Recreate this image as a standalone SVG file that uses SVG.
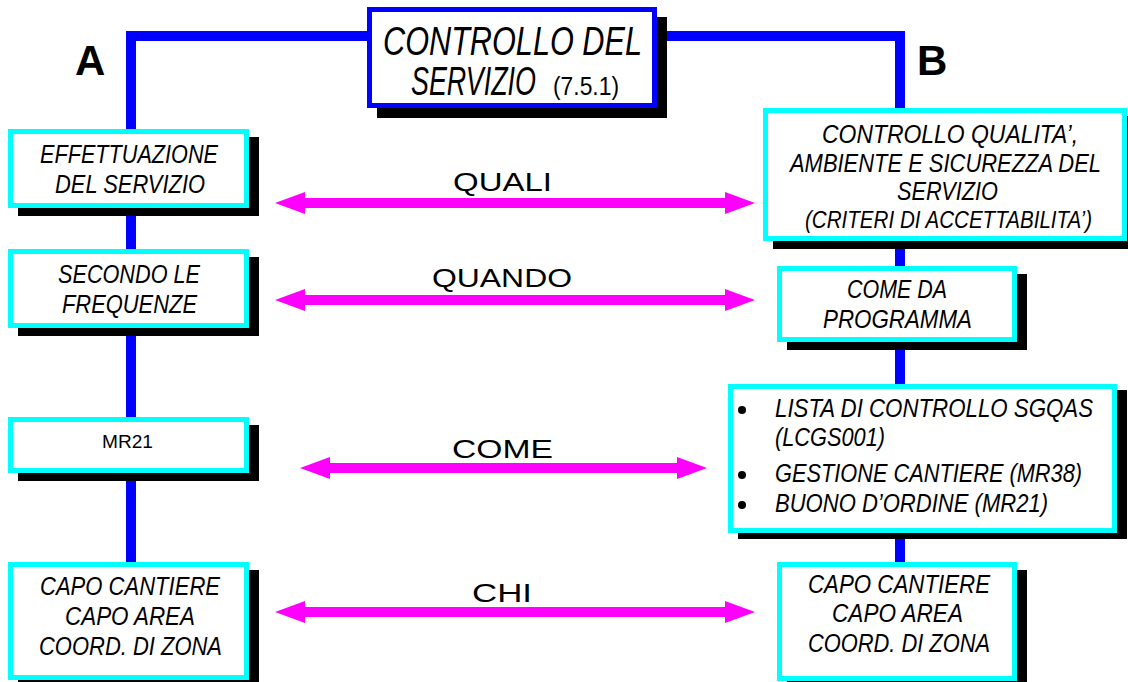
<svg xmlns="http://www.w3.org/2000/svg" width="1128" height="682" viewBox="0 0 1128 682">
<style>
.bg{fill:#ffffff}
.sh{fill:#000000}
.box{fill:#ffffff;stroke:#00ffff;stroke-width:5}
.tbox{fill:#ffffff;stroke:#0000ff;stroke-width:5}
.t{font-family:"Liberation Sans",Arial,sans-serif;font-style:italic;font-size:25px;fill:#000}
.ts{font-family:"Liberation Sans",Arial,sans-serif;font-style:italic;font-size:23px;fill:#000}
.tr{font-family:"Liberation Sans",Arial,sans-serif;font-size:19px;fill:#000}
.title{font-family:"Liberation Sans",Arial,sans-serif;font-style:italic;font-size:40px;fill:#000}
.num{font-family:"Liberation Sans",Arial,sans-serif;font-size:25px;fill:#000}
.lbl{font-family:"Liberation Sans",Arial,sans-serif;font-size:26px;fill:#000}
.big{font-family:"Liberation Sans",Arial,sans-serif;font-weight:bold;font-size:42px;fill:#000}
.blue{fill:none;stroke:#0000ff;stroke-width:10;stroke-linejoin:miter}
.arr{stroke:#ff00ff;stroke-width:10;marker-start:url(#ah);marker-end:url(#ah)}
</style>
<defs>
<marker id="ah" viewBox="0 -11 30 22" refX="5" refY="0" markerWidth="30" markerHeight="22" markerUnits="userSpaceOnUse" orient="auto-start-reverse">
<path d="M0,-11 L30,0 L0,11 z" fill="#ff00ff"/>
</marker>
</defs>
<rect class="bg" x="0" y="0" width="1128" height="682"/>

<g id="connectors">
<path class="blue" d="M131,562 V36 H900 V562"/>
<line class="arr" x1="300" y1="203" x2="730" y2="203"/>
<line class="arr" x1="300" y1="300" x2="730" y2="300"/>
<line class="arr" x1="325" y1="468" x2="682" y2="468"/>
<line class="arr" x1="300" y1="612" x2="730" y2="612"/>
<text class="lbl" x="453" y="191" textLength="99" lengthAdjust="spacingAndGlyphs">QUALI</text>
<text class="lbl" x="432" y="287" textLength="140" lengthAdjust="spacingAndGlyphs">QUANDO</text>
<text class="lbl" x="452" y="458" textLength="101" lengthAdjust="spacingAndGlyphs">COME</text>
<text class="lbl" x="472" y="602" textLength="60" lengthAdjust="spacingAndGlyphs">CHI</text>
</g>

<g id="labelA"><text class="big" x="75" y="75">A</text></g>
<g id="labelB"><text class="big" x="917" y="75">B</text></g>

<g id="title">
<rect class="sh" x="377" y="17" width="290" height="101"/>
<rect class="tbox" x="369.5" y="9.5" width="285" height="96"/>
<text class="title" x="383" y="55" textLength="259" lengthAdjust="spacingAndGlyphs">CONTROLLO DEL</text>
<text class="title" x="411" y="95" textLength="125" lengthAdjust="spacingAndGlyphs">SERVIZIO</text>
<text class="num" x="553" y="95" textLength="66" lengthAdjust="spacingAndGlyphs">(7.5.1)</text>
</g>

<g id="A1">
<rect class="sh" x="18" y="137" width="241" height="79"/>
<rect class="box" x="10.5" y="131.5" width="236" height="74"/>
<text class="t" x="40" y="163" textLength="178" lengthAdjust="spacingAndGlyphs">EFFETTUAZIONE</text>
<text class="t" x="55" y="193" textLength="150" lengthAdjust="spacingAndGlyphs">DEL SERVIZIO</text>
</g>
<g id="A2">
<rect class="sh" x="18" y="257" width="241" height="79"/>
<rect class="box" x="10.5" y="251.5" width="236" height="74"/>
<text class="t" x="58" y="283" textLength="142" lengthAdjust="spacingAndGlyphs">SECONDO LE</text>
<text class="t" x="62" y="313" textLength="135" lengthAdjust="spacingAndGlyphs">FREQUENZE</text>
</g>
<g id="A3">
<rect class="sh" x="18" y="425" width="241" height="56"/>
<rect class="box" x="10.5" y="419.5" width="236" height="51"/>
<text class="tr" x="102" y="448" textLength="51" lengthAdjust="spacingAndGlyphs">MR21</text>
</g>
<g id="A4">
<rect class="sh" x="18" y="570" width="241" height="118"/>
<rect class="box" x="10.5" y="564.5" width="236" height="113"/>
<text class="t" x="40" y="595" textLength="180" lengthAdjust="spacingAndGlyphs">CAPO CANTIERE</text>
<text class="t" x="65" y="625" textLength="130" lengthAdjust="spacingAndGlyphs">CAPO AREA</text>
<text class="t" x="39" y="655" textLength="183" lengthAdjust="spacingAndGlyphs">COORD. DI ZONA</text>
</g>

<g id="B1">
<rect class="sh" x="773" y="116" width="364" height="133"/>
<rect class="box" x="765.5" y="110.5" width="359" height="128"/>
<text class="t" x="822" y="143" textLength="256" lengthAdjust="spacingAndGlyphs">CONTROLLO QUALITA’,</text>
<text class="t" x="790" y="172" textLength="311" lengthAdjust="spacingAndGlyphs">AMBIENTE E SICUREZZA DEL</text>
<text class="t" x="897" y="200" textLength="101" lengthAdjust="spacingAndGlyphs">SERVIZIO</text>
<text class="ts" x="805" y="228" textLength="287" lengthAdjust="spacingAndGlyphs">(CRITERI DI ACCETTABILITA’)</text>
</g>
<g id="B2">
<rect class="sh" x="787" y="274" width="240" height="76"/>
<rect class="box" x="779.5" y="268.5" width="235" height="71"/>
<text class="t" x="847" y="298" textLength="100" lengthAdjust="spacingAndGlyphs">COME DA</text>
<text class="t" x="823" y="328" textLength="149" lengthAdjust="spacingAndGlyphs">PROGRAMMA</text>
</g>
<g id="B3">
<rect class="sh" x="738" y="390" width="389" height="149"/>
<rect class="box" x="730.5" y="386.5" width="384" height="144"/>
<circle cx="742" cy="410" r="4" fill="#000"/>
<circle cx="742" cy="475" r="4" fill="#000"/>
<circle cx="742" cy="505" r="4" fill="#000"/>
<text class="t" x="775" y="417" textLength="318" lengthAdjust="spacingAndGlyphs">LISTA DI CONTROLLO SGQAS</text>
<text class="t" x="775" y="446" textLength="110" lengthAdjust="spacingAndGlyphs">(LCGS001)</text>
<text class="t" x="775" y="482" textLength="307" lengthAdjust="spacingAndGlyphs">GESTIONE CANTIERE (MR38)</text>
<text class="t" x="775" y="512" textLength="273" lengthAdjust="spacingAndGlyphs">BUONO D’ORDINE (MR21)</text>
</g>
<g id="B4">
<rect class="sh" x="787" y="570" width="240" height="119"/>
<rect class="box" x="779.5" y="564.5" width="235" height="114"/>
<text class="t" x="808" y="593" textLength="182" lengthAdjust="spacingAndGlyphs">CAPO CANTIERE</text>
<text class="t" x="832" y="622" textLength="131" lengthAdjust="spacingAndGlyphs">CAPO AREA</text>
<text class="t" x="808" y="652" textLength="182" lengthAdjust="spacingAndGlyphs">COORD. DI ZONA</text>
</g>
</svg>
